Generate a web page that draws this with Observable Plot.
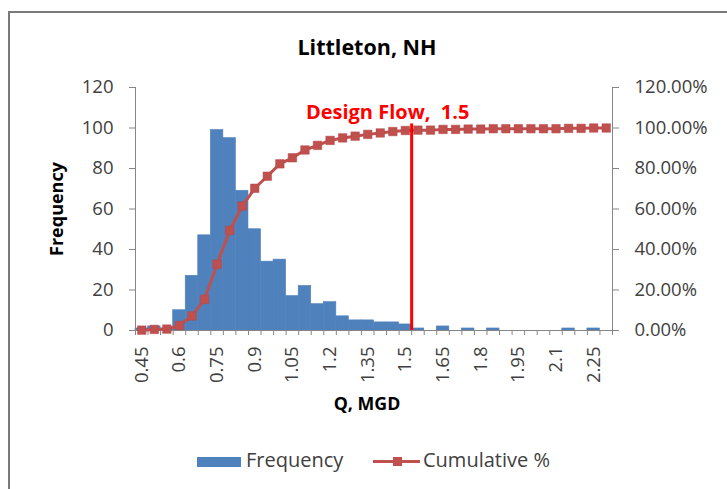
<!DOCTYPE html>
<html>
<head>
<meta charset="utf-8">
<script src="https://cdn.jsdelivr.net/npm/d3@7"></script>
<script src="https://cdn.jsdelivr.net/npm/@observablehq/plot@0.6"></script>
<style>
  html, body { margin: 0; padding: 0; background: #fff; }
  body { width: 727px; height: 489px; overflow: hidden; position: relative;
         font-family: "Open Sans", Lato, sans-serif; color: #404040; }
  #frame { position: absolute; left: 8px; top: 11px; width: 780px; height: 540px;
           border: 2px solid #7a7a7a; box-sizing: border-box; }
  #title { position: absolute; left: 0; width: 734px; top: 32px; text-align: center;
           font-weight: bold; font-size: 21.5px; line-height: 1.362; color: #000; }
  #ylabel { position: absolute; left: 56px; top: 209px; transform: translate(-50%, -50%) rotate(-90deg);
            font-weight: bold; font-size: 18px; line-height: 1.362; color: #000; white-space: nowrap; }
  #xlabel { position: absolute; left: 0; width: 734px; top: 391px; text-align: center;
            font-weight: bold; font-size: 17.8px; line-height: 1.362; color: #000; }
  #chart { position: absolute; left: 0; top: 60px; }
  .leg { position: absolute; }
  .legtext { position: absolute; top: 445.5px; font-size: 20px; line-height: 1.362; color: #404040; white-space: nowrap; }
</style>
</head>
<body>
<div id="frame"></div>
<div id="title">Littleton, NH</div>
<div id="ylabel">Frequency</div>
<div id="chart"></div>
<div id="xlabel">Q, MGD</div>
<div class="leg" style="left:197px;top:457px;width:44px;height:10px;background:#4F81BD"></div>
<div class="legtext" style="left:246px">Frequency</div>
<div class="leg" style="left:373px;top:460px;width:47px;height:3px;background:#C0504D"></div>
<div class="leg" style="left:393px;top:457px;width:9px;height:9px;background:#C0504D"></div>
<div class="legtext" style="left:423px">Cumulative %</div>
<script>
// Flow bins (upper edge of each 0.05 MGD bin), counts and cumulative share
const binUpper = [0.45, 0.5, 0.55, 0.6, 0.65, 0.7, 0.75, 0.8, 0.85, 0.9,
                  0.95, 1.0, 1.05, 1.1, 1.15, 1.2, 1.25, 1.3, 1.35, 1.4,
                  1.45, 1.5, 1.55, 1.6, 1.65, 1.7, 1.75, 1.8, 1.85, 1.9,
                  1.95, 2.0, 2.05, 2.1, 2.15, 2.2, 2.25, 2.3];
const frequency = [1, 2, 1, 10, 27, 47, 99, 95, 69, 50,
                   34, 35, 17, 22, 13, 14, 7, 5, 5, 4,
                   4, 3, 1, 0, 2, 0, 1, 0, 1, 0,
                   0, 0, 0, 0, 1, 0, 1, 0];
const cumulativePct = [0.18, 0.53, 0.70, 2.45, 7.18, 15.41, 32.75, 49.39, 61.47, 70.23,
                       76.18, 82.31, 85.29, 89.14, 91.42, 93.87, 95.10, 95.97, 96.85, 97.55,
                       98.25, 98.77, 98.95, 98.95, 99.30, 99.30, 99.47, 99.47, 99.65, 99.65,
                       99.65, 99.65, 99.65, 99.65, 99.82, 99.82, 100, 100];
const xTickLabels = [0.45, 0.6, 0.75, 0.9, 1.05, 1.2, 1.35, 1.5, 1.65, 1.8, 1.95, 2.1, 2.25];
const yTicks = [0, 20, 40, 60, 80, 100, 120];
const designFlow = 1.5;
const binWidth = 0.05;

const rows = binUpper.map((q, i) => ({
  lo: q - binWidth, hi: q, mid: q - binWidth / 2,
  freq: frequency[i], cum: cumulativePct[i]
}));
const xDomain = [binUpper[0] - binWidth, binUpper[binUpper.length - 1]];
const axisColor = "#868686";
const textColor = "#404040";
const barColor = "#4F81BD";
const lineColor = "#C0504D";
const font = "'Open Sans', Lato, sans-serif";

const chart = Plot.plot({
  width: 727,
  height: 340,
  marginTop: 27,
  marginBottom: 70,
  marginLeft: 135,
  marginRight: 115,
  x: {domain: xDomain, axis: null},
  y: {domain: [0, 120], axis: null},
  style: {fontFamily: font, fontSize: "18.5px", color: textColor, overflow: "visible"},
  marks: [
    // contiguous histogram bars (empty bins are left out)
    Plot.rectY(rows.filter(d => d.freq > 0), {
      x1: "lo", x2: "hi", y: "freq", inset: 0,
      fill: barColor, stroke: barColor, strokeWidth: 0.6
    }),
    Plot.ruleX(xDomain, {stroke: axisColor, strokeWidth: 1}),
    Plot.ruleY([0], {stroke: axisColor, strokeWidth: 1}),
    // tick marks at every bin edge
    Plot.axisX([xDomain[0], ...binUpper], {tickSize: 5, stroke: axisColor, tickFormat: () => "", label: null}),
    // labels at the centre of every third bin
    Plot.axisX(xTickLabels.map(v => v - binWidth / 2), {
      tickSize: 0, tickPadding: 16, tickRotate: -90, fill: textColor, fontSize: 18.5,
      tickFormat: d => String(+(d + binWidth / 2).toFixed(2)), label: null
    }),
    Plot.axisY(yTicks, {anchor: "left", tickSize: 6, tickPadding: 16, stroke: axisColor,
      fill: textColor, fontSize: 18.5, label: null}),
    Plot.axisY(yTicks, {anchor: "right", tickSize: 6, tickPadding: 16, stroke: axisColor,
      fill: textColor, fontSize: 18.5, label: null, tickFormat: d => d.toFixed(2) + "%"}),
    Plot.line(rows, {x: "mid", y: "cum", stroke: lineColor, strokeWidth: 3}),
    Plot.dot(rows, {x: "mid", y: "cum", symbol: "square", r: 4.8, fill: lineColor, stroke: "#B5474A", strokeWidth: 0.5}),
    Plot.ruleX([designFlow], {y1: 0, y2: 102, stroke: "#FF0000", strokeWidth: 3}),
    Plot.text([designFlow], {
      x: d => d, text: d => `Design Flow,\u00A0 ${d}`,
      frameAnchor: "top", dy: 17, dx: -24, textAnchor: "middle",
      fill: "#FF0000", fontWeight: "bold", fontSize: 20
    })
  ]
});
document.getElementById("chart").appendChild(chart);
</script>
</body>
</html>
